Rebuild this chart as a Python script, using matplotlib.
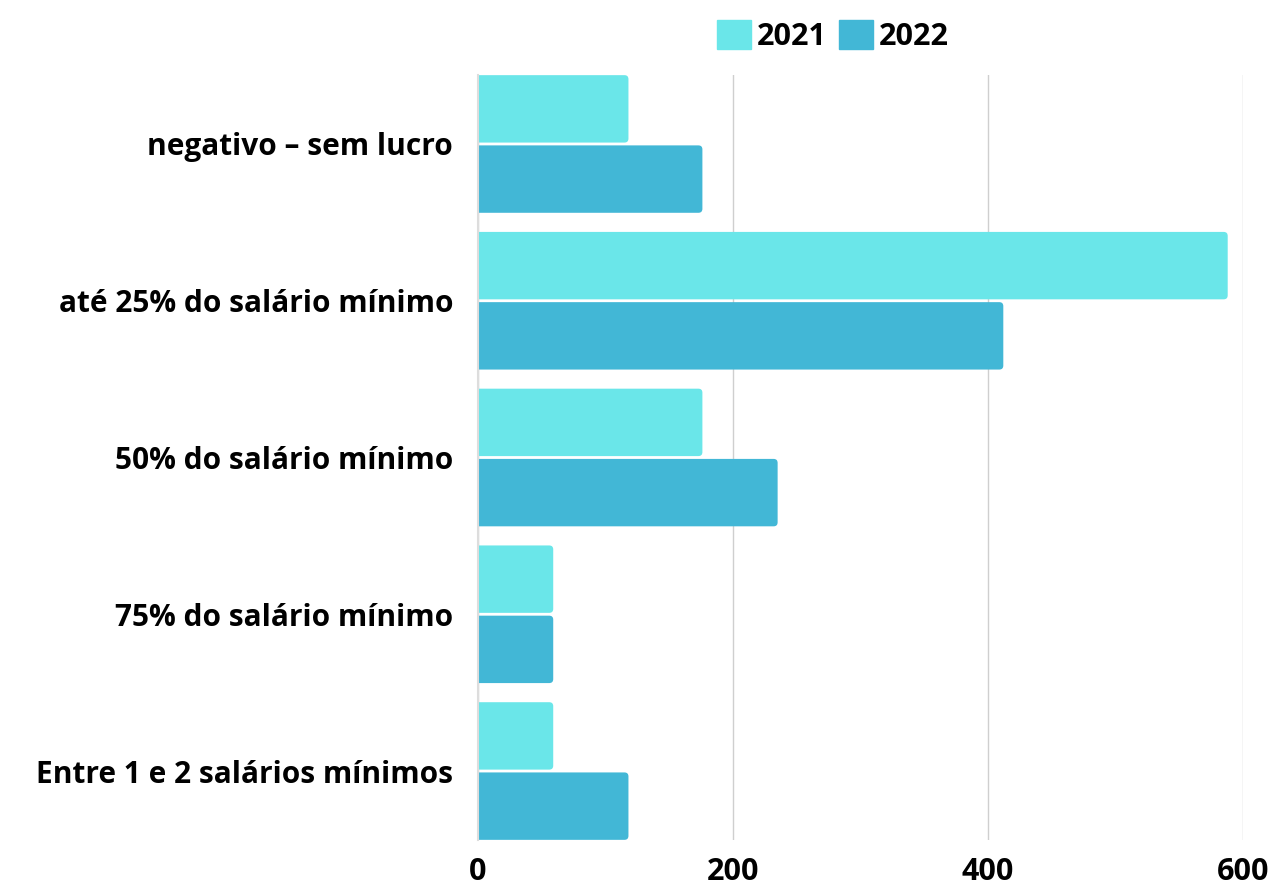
import matplotlib
matplotlib.use('Agg')
import matplotlib.pyplot as plt
from matplotlib.patches import FancyBboxPatch, Patch

categories = ['negativo – sem lucro', 'até 25% do salário mínimo', '50% do salário mínimo',
              '75% do salário mínimo', 'Entre 1 e 2 salários mínimos']
vals_2021 = [118, 588, 176, 59, 59]
vals_2022 = [176, 412, 235, 59, 118]
years = ['2021', '2022']
colors = ['#6ae6e9', '#42b7d6']
xticks = [0, 200, 400, 600]

plt.rcParams['font.family'] = ['Open Sans', 'DejaVu Sans']

fig = plt.figure(figsize=(12.72, 8.86), dpi=100)
ax = fig.add_axes([478/1272, 1-840/886, 765/1272, 765/886])

y = list(range(len(categories)))
h = 0.43
off = 0.224
b1 = ax.barh([i - off for i in y], vals_2021, height=h, color=colors[0])
b2 = ax.barh([i + off for i in y], vals_2022, height=h, color=colors[1])

ax.set_xlim(0, 600)
ax.set_ylim(4.44, -0.44)

# swap plain bars for rounded ones (square left end hidden past the axis)
px_x = 600 / 765
px_y = 4.88 / 765
r = 4 * px_x
for bars in (b1, b2):
    for p in bars:
        x0, y0 = p.get_x(), p.get_y()
        w, hh = p.get_width(), p.get_height()
        fb = FancyBboxPatch((x0 - r * 2, y0), w + r * 2, hh,
                            boxstyle='round,pad=0,rounding_size=%f' % r,
                            mutation_aspect=px_y / px_x,
                            facecolor=p.get_facecolor(), edgecolor='none', zorder=2)
        ax.add_patch(fb)
        p.remove()

ax.set_yticks(y)
ax.set_yticklabels(categories, fontsize=21.5, fontweight='bold')
ax.set_xticks(xticks)
ax.set_xticklabels([str(t) for t in xticks], fontsize=22, fontweight='bold',
                   family=['Liberation Sans Narrow', 'Open Sans'])
ax.tick_params(axis='y', length=0, pad=18)
ax.tick_params(axis='x', length=0, pad=12)

ax.grid(axis='x', color='#cfcfcf', linewidth=1)
ax.set_axisbelow(True)
for s in ['top', 'right', 'bottom']:
    ax.spines[s].set_visible(False)
ax.spines['left'].set_color('#dddddd')
ax.spines['left'].set_linewidth(1.5)
ax.spines['left'].set_zorder(3)

handles = [Patch(color=c) for c in colors]
fig.legend(handles, years, loc='center', bbox_to_anchor=(833/1272, 1-36/886), ncol=2,
           frameon=False, prop={'size': 22, 'weight': 'bold'},
           handlelength=1.1, handleheight=1.1, handletextpad=0.2, columnspacing=0.4)

fig.savefig('out.png', dpi=100)
